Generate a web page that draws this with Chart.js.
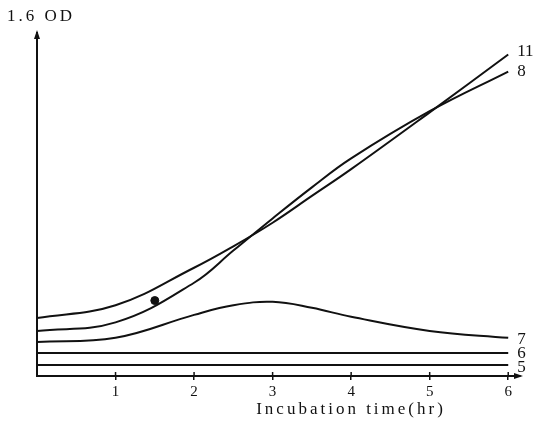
<!DOCTYPE html>
<html>
<head>
<meta charset="utf-8">
<script src="https://cdn.jsdelivr.net/npm/chart.js@4"></script>
<style>
  html, body { margin: 0; padding: 0; background: #fff; }
  #wrap { width: 535px; height: 421px; }
</style>
</head>
<body>
<div id="wrap"><canvas id="odChart" width="535" height="421"></canvas></div>
<script>
// incubation time (hr) and OD readings
const hours = [0, 1, 2, 2.5, 3, 3.5, 4, 5, 6];
const curve11 = [0.27, 0.33, 0.505, 0.605, 0.715, 0.84, 0.965, 1.23, 1.50];
const curve8 = [0.21, 0.25, 0.435, 0.585, 0.735, 0.88, 1.015, 1.235, 1.42];
const curve7 = [0.159, 0.178, 0.285, 0.33, 0.346, 0.318, 0.276, 0.21, 0.178];
const curve6 = [0.107, 0.107, 0.107, 0.107, 0.107, 0.107, 0.107, 0.107, 0.107];
const curve5 = [0.051, 0.051, 0.051, 0.051, 0.051, 0.051, 0.051, 0.051, 0.051];
const curveNames = ['11', '8', '7', '6', '5'];
const dotPoint = [{x: 1.5, y: 0.352}];
const xTicks = [1, 2, 3, 4, 5, 6];
const yTopLabel = '1.6 OD';
const xTitle = 'Incubation time(hr)';

const ink = '#111';
const serif = '"Liberation Serif", "DejaVu Serif", serif';

function toPoints(vals) {
  return hours.map((h, i) => ({x: h, y: vals[i]}));
}

const series = [curve11, curve8, curve7, curve6, curve5];
const datasets = series.map((vals, i) => ({
  label: curveNames[i],
  data: toPoints(vals),
  borderColor: ink,
  borderWidth: 2,
  pointRadius: 0,
  tension: 0.4,
  fill: false
}));
datasets.push({
  label: 'dot',
  type: 'scatter',
  data: dotPoint,
  pointRadius: 4,
  pointBackgroundColor: ink,
  pointBorderColor: ink
});

// arrows, curve names and the loose text
const decorations = {
  id: 'decorations',
  afterDraw(chart) {
    const ctx = chart.ctx;
    const xs = chart.scales.x, ys = chart.scales.y;
    const a = chart.chartArea;
    ctx.save();
    ctx.fillStyle = ink;
    ctx.strokeStyle = ink;
    // y arrow
    ctx.beginPath();
    ctx.moveTo(a.left, a.top - 3);
    ctx.lineTo(a.left - 3, a.top + 6);
    ctx.lineTo(a.left + 3, a.top + 6);
    ctx.closePath();
    ctx.fill();
    // x arrow
    ctx.beginPath();
    ctx.moveTo(a.right + 3, a.bottom);
    ctx.lineTo(a.right - 6, a.bottom - 3);
    ctx.lineTo(a.right - 6, a.bottom + 3);
    ctx.closePath();
    ctx.fill();
    // upward part of the tick marks
    ctx.lineWidth = 1.5;
    xs.ticks.forEach(t => {
      const px = xs.getPixelForValue(t.value);
      ctx.beginPath();
      ctx.moveTo(px, a.bottom);
      ctx.lineTo(px, a.bottom - 4);
      ctx.stroke();
    });
    ctx.font = '17px ' + serif;
    ctx.textBaseline = 'middle';
    ctx.textAlign = 'left';
    const shifts = [-3, 0, 2, 0, 2];
    series.forEach((vals, i) => {
      const px = xs.getPixelForValue(hours[hours.length - 1]) + 9;
      const py = ys.getPixelForValue(vals[vals.length - 1]) + shifts[i];
      ctx.fillText(curveNames[i], px, py);
    });
    ctx.letterSpacing = '3px';
    ctx.fillText(yTopLabel, 7, 17);
    ctx.textAlign = 'center';
    ctx.fillText(xTitle, 351, 410);
    ctx.restore();
  }
};

new Chart(document.getElementById('odChart'), {
  type: 'line',
  data: {datasets: datasets},
  options: {
    responsive: false,
    animation: false,
    layout: {padding: {left: 37, top: 33, right: 15, bottom: 0}},
    plugins: {legend: {display: false}, tooltip: {enabled: false}},
    scales: {
      x: {
        type: 'linear',
        min: 0,
        max: 6.15,
        afterFit(s) { s.height = 45; },
        afterBuildTicks(s) {
          s.ticks = xTicks.map(v => ({value: v}));
        },
        border: {display: true, color: ink, width: 2},
        grid: {drawOnChartArea: false, drawTicks: true, tickLength: 4, color: ink, lineWidth: 1.5},
        ticks: {padding: 3, color: ink, font: {family: serif, size: 15}, maxRotation: 0}
      },
      y: {
        min: 0,
        max: 1.6,
        afterFit(s) { s.width = 0; },
        border: {display: true, color: ink, width: 2},
        grid: {display: false},
        ticks: {display: false}
      }
    }
  },
  plugins: [decorations]
});
</script>
</body>
</html>
